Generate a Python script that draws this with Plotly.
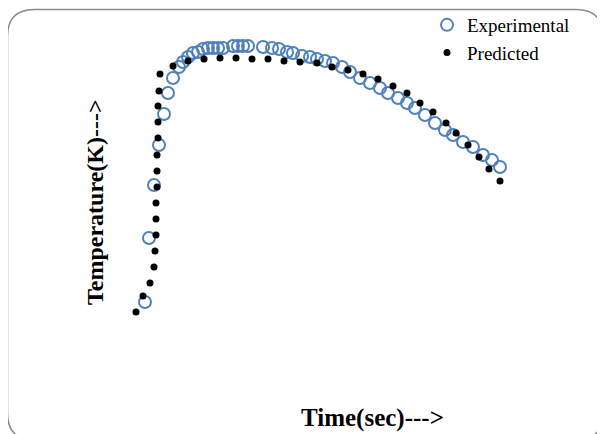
import plotly.graph_objects as go

exp_time = [25, 29, 34, 39, 44, 48, 53, 59, 63, 68, 73, 78, 83, 88, 93, 98, 103,
            113, 118, 123, 128, 143, 152, 159, 167, 173, 182, 190, 197, 205, 213,
            222, 230, 240, 250, 260, 268, 278, 287, 295, 305, 315, 325, 333, 343,
            353, 363, 372, 380]
exp_temp = [356, 484, 590, 670, 732, 774, 804, 826, 836, 846, 854, 856, 862, 864,
            864, 864, 864, 868, 868, 868, 868, 866, 864, 862, 856, 854, 848, 846,
            842, 838, 834, 826, 816, 804, 794, 784, 774, 764, 754, 744, 730, 714,
            700, 690, 676, 666, 650, 640, 626]

# Predicted data
pred_time = [16, 23, 30, 34, 35, 36, 36, 36, 37, 37, 37, 38, 38, 38, 39, 40, 53,
             68, 84, 100, 116, 132, 148, 164, 180, 197, 212, 228, 243, 258, 273,
             287, 300, 313, 326, 336, 348, 359, 369, 380]
pred_temp = [336, 368, 394, 426, 458, 490, 522, 554, 586, 618, 650, 684, 716, 748,
             778, 812, 828, 838, 842, 844, 844, 842, 842, 838, 836, 834, 826, 820,
             812, 802, 788, 774, 754, 736, 714, 694, 670, 646, 622, 598]

x_title = "Time(sec)--->"
y_title = "Temperature(K)--->"

OFF = 8                      # page body margin of the html page
W, H = 605, 434
# plot area in window pixels: x 120..520, y 30..330
L, T = 120 - OFF, 30 - OFF
R, B = W - (520 - OFF), H - (330 - OFF)
PW, PH = W - L - R, H - T - B
FONT = "Times New Roman, Liberation Serif, serif"

def px(x):
    return (x - OFF - L) / PW

def py(y):
    return (H - B - (y - OFF)) / PH

fig = go.Figure()
fig.add_trace(go.Scatter(
    x=exp_time, y=exp_temp, mode="markers", name="Experimental",
    marker=dict(symbol="circle-open", size=12, color="#4F81BD",
                line=dict(width=2, color="#4F81BD")),
))
fig.add_trace(go.Scatter(
    x=pred_time, y=pred_temp, mode="markers", name="Predicted",
    marker=dict(symbol="circle", size=7, color="black"),
))

# rounded outer border
x0, x1, y0, y1, r = 7.5, 603, 9.5, 440, 27
path = (f"M {px(x0)},{py(y0 + r)} Q {px(x0)},{py(y0)} {px(x0 + r)},{py(y0)} "
        f"L {px(x1 - r)},{py(y0)} Q {px(x1)},{py(y0)} {px(x1)},{py(y0 + r)} "
        f"L {px(x1)},{py(y1 - r)} Q {px(x1)},{py(y1)} {px(x1 - r)},{py(y1)} "
        f"L {px(x0 + r)},{py(y1)} Q {px(x0)},{py(y1)} {px(x0)},{py(y1 - r)} Z")

fig.update_layout(
    width=W, height=H,
    margin=dict(l=L, r=R, t=T, b=B, autoexpand=False),
    paper_bgcolor="white", plot_bgcolor="white",
    font=dict(family=FONT, color="black"),
    xaxis=dict(range=[0, 400], visible=False),
    yaxis=dict(range=[300, 900], visible=False),
    showlegend=True,
    legend=dict(x=px(427), y=py(6), xanchor="left", yanchor="top",
                font=dict(family=FONT, size=19, color="black"),
                bgcolor="rgba(0,0,0,0)", tracegroupgap=0),
    shapes=[dict(type="path", xref="paper", yref="paper", path=path,
                 line=dict(color="#8C8C8C", width=1.5), layer="below")],
    annotations=[
        dict(text=f"<b>{x_title}</b>", xref="paper", yref="paper",
             x=px(372), y=py(418), xanchor="center", yanchor="middle",
             showarrow=False, font=dict(family=FONT, size=25, color="black")),
        dict(text=f"<b>{y_title}</b>", xref="paper", yref="paper",
             x=px(95), y=py(202), xanchor="center", yanchor="middle",
             textangle=-90, showarrow=False,
             font=dict(family=FONT, size=24, color="black")),
    ],
)

fig.write_html("out.html")
